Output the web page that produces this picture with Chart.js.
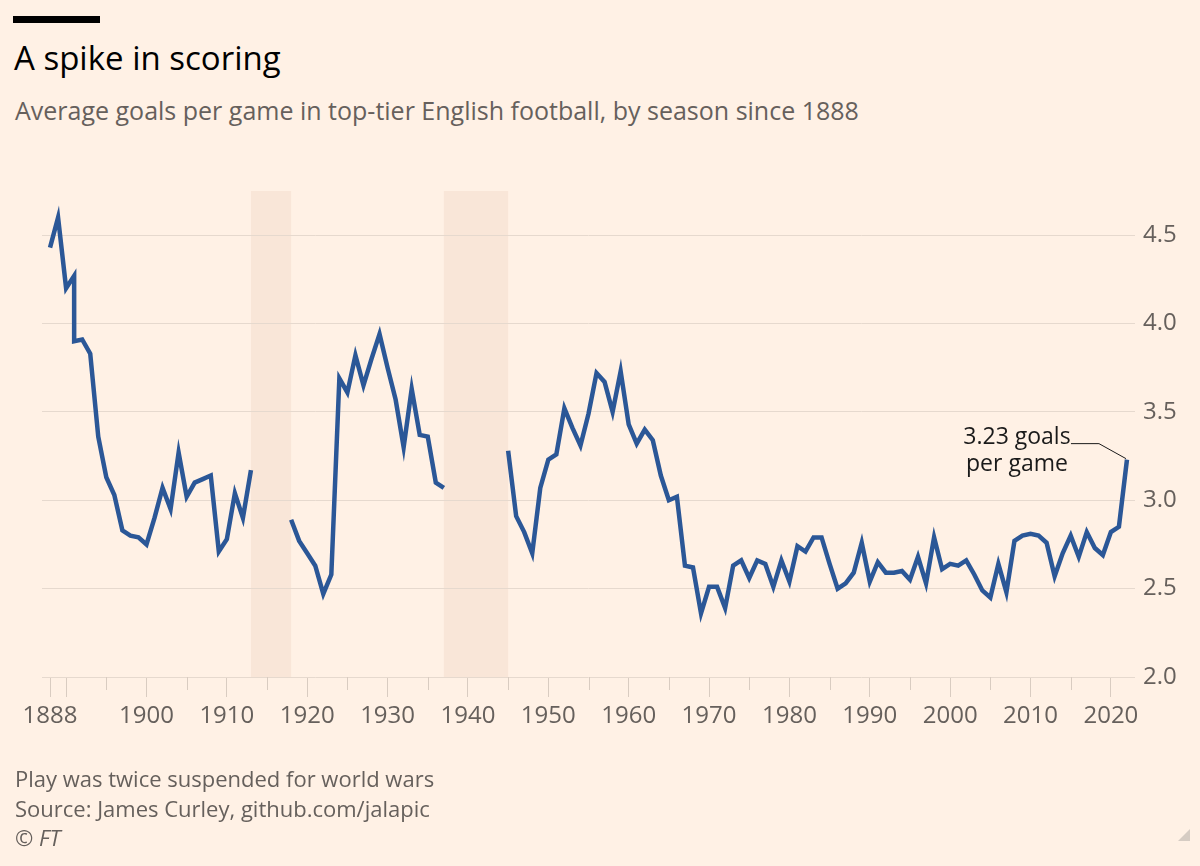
<!DOCTYPE html>
<html>
<head>
<meta charset="utf-8">
<title>A spike in scoring</title>
<script src="https://cdn.jsdelivr.net/npm/chart.js@4"></script>
<style>
html, body { margin: 0; padding: 0; background: #FFF1E5; }
body { width: 1200px; height: 866px; position: relative; overflow: hidden; font-family: "Open Sans", sans-serif; }
#chart { position: absolute; left: 0; top: 0; }
.bar { position: absolute; left: 13px; top: 16px; width: 87px; height: 7px; background: #000; }
.title { position: absolute; left: 14px; top: 41px; font-size: 33px; line-height: 33px; color: #000; white-space: nowrap; }
.subtitle { position: absolute; left: 15px; top: 98px; font-size: 25px; line-height: 25px; color: #66605C; white-space: nowrap; }
.footer { position: absolute; left: 15px; top: 764px; font-size: 22px; line-height: 29.5px; color: #66605C; white-space: nowrap; }
.footer i { font-style: italic; }
.corner { position: absolute; left: 1178px; top: 829px; width: 0; height: 0; border-left: 12px solid transparent; border-bottom: 12px solid #d6ccc3; }
</style>
</head>
<body>
<div class="bar"></div>
<div class="title">A spike in scoring</div>
<div class="subtitle">Average goals per game in top-tier English football, by season since 1888</div>
<canvas id="chart" width="1200" height="866"></canvas>
<div class="footer">Play was twice suspended for world wars<br>Source: James Curley, github.com/jalapic<br><i>© FT</i></div>
<div class="corner"></div>
<script>
// seasons (start year as plotted); null marks the war gaps
const seasons = [
    1888, 1889, 1890, 1891, 1891, 1892, 1893, 1894, 1895, 1896, 1897, 1898, 1899,
    1900, 1901, 1902, 1903, 1904, 1905, 1906, 1907, 1908, 1909, 1910, 1911, 1912, 1913,
    1915,
    1918, 1919, 1920, 1921, 1922, 1923, 1924, 1925, 1926, 1927, 1928, 1929,
    1930, 1931, 1932, 1933, 1934, 1935, 1936, 1937,
    1941,
    1945, 1946, 1947, 1948, 1949, 1950, 1951, 1952, 1953, 1954, 1955, 1956, 1957, 1958, 1959,
    1960, 1961, 1962, 1963, 1964, 1965, 1966, 1967, 1968, 1969,
    1970, 1971, 1972, 1973, 1974, 1975, 1976, 1977, 1978, 1979,
    1980, 1981, 1982, 1983, 1984, 1985, 1986, 1987, 1988, 1989,
    1990, 1991, 1992, 1993, 1994, 1995, 1996, 1997, 1998, 1999,
    2000, 2001, 2002, 2003, 2004, 2005, 2006, 2007, 2008, 2009,
    2010, 2011, 2012, 2013, 2014, 2015, 2016, 2017, 2018, 2019,
    2020, 2021, 2022
];

const goalsPerGame = [
    4.43, 4.60, 4.20, 4.27, 3.90, 3.91, 3.83, 3.36, 3.13, 3.03, 2.83, 2.80, 2.79,
    2.75, 2.90, 3.07, 2.95, 3.27, 3.02, 3.10, 3.12, 3.14, 2.71, 2.78, 3.04, 2.90, 3.17,
    null,
    2.89, 2.77, 2.70, 2.63, 2.47, 2.58, 3.69, 3.61, 3.82, 3.65, 3.80, 3.94,
    3.75, 3.57, 3.30, 3.63, 3.37, 3.36, 3.10, 3.07,
    null,
    3.28, 2.91, 2.82, 2.70, 3.07, 3.23, 3.26, 3.52, 3.41, 3.31, 3.49, 3.72, 3.67, 3.50, 3.73,
    3.43, 3.32, 3.40, 3.34, 3.14, 3.00, 3.02, 2.63, 2.62, 2.36,
    2.51, 2.51, 2.39, 2.63, 2.66, 2.56, 2.66, 2.64, 2.51, 2.66,
    2.54, 2.74, 2.71, 2.79, 2.79, 2.64, 2.50, 2.53, 2.59, 2.76,
    2.54, 2.65, 2.59, 2.59, 2.60, 2.55, 2.68, 2.53, 2.79, 2.61,
    2.64, 2.63, 2.66, 2.58, 2.49, 2.45, 2.64, 2.48, 2.77, 2.80,
    2.81, 2.80, 2.76, 2.57, 2.70, 2.80, 2.68, 2.82, 2.73, 2.69,
    2.82, 2.85, 3.23
];

const warGaps = [[1913, 1918], [1937, 1945]];

const xTickYears = [1888, 1890, 1895, 1900, 1905, 1910, 1915, 1920, 1925, 1930, 1935, 1940,
    1945, 1950, 1955, 1960, 1965, 1970, 1975, 1980, 1985, 1990, 1995, 2000, 2005, 2010, 2015, 2020];
const xLabelYears = [1888, 1900, 1910, 1920, 1930, 1940, 1950, 1960, 1970, 1980, 1990, 2000, 2010, 2020];
const xLongTicks = [1888, 1890].concat(xLabelYears);

const lastLabel = ["3.23 goals", "per game"];

const INK = "#66605C";
const GRID = "#E6D9CE";
const LINE = "#2B5797";

const points = seasons.map(function (s, i) { return { x: s, y: goalsPerGame[i] }; });

const bandPlugin = {
    id: "bands",
    beforeDraw: function (chart) {
        const ctx = chart.ctx, xs = chart.scales.x, area = chart.chartArea;
        ctx.save();
        ctx.fillStyle = "#F9E6D8";
        warGaps.forEach(function (g) {
            const x0 = xs.getPixelForValue(g[0]);
            const x1 = xs.getPixelForValue(g[1]);
            ctx.fillRect(x0, area.top, x1 - x0, area.bottom - area.top);
        });
        ctx.restore();
    }
};

const shortTickPlugin = {
    id: "shortTicks",
    afterDraw: function (chart) {
        const ctx = chart.ctx, xs = chart.scales.x, area = chart.chartArea;
        ctx.save();
        ctx.strokeStyle = "#D9CCC1";
        ctx.lineWidth = 1;
        xTickYears.forEach(function (v) {
            if (xLongTicks.indexOf(v) >= 0) { return; }
            const px = Math.round(xs.getPixelForValue(v)) + 0.5;
            ctx.beginPath();
            ctx.moveTo(px, area.bottom);
            ctx.lineTo(px, area.bottom + 13);
            ctx.stroke();
        });
        ctx.restore();
    }
};

const annotationPlugin = {
    id: "lastNote",
    afterDatasetsDraw: function (chart) {
        const ctx = chart.ctx, xs = chart.scales.x, ys = chart.scales.y;
        const n = seasons.length - 1;
        const px = xs.getPixelForValue(seasons[n]);
        const py = ys.getPixelForValue(goalsPerGame[n]);
        ctx.save();
        ctx.strokeStyle = "#1a1a1a";
        ctx.lineWidth = 1;
        ctx.beginPath();
        ctx.moveTo(px - 56, py - 16);
        ctx.lineTo(px - 28, py - 16);
        ctx.lineTo(px - 1, py - 1);
        ctx.stroke();
        ctx.fillStyle = "#1a1a1a";
        ctx.font = "23px 'Open Sans'";
        ctx.textAlign = "center";
        ctx.textBaseline = "alphabetic";
        ctx.fillText(lastLabel[0], px - 110, py - 16);
        ctx.fillText(lastLabel[1], px - 110, py + 11);
        ctx.restore();
    }
};

new Chart(document.getElementById("chart"), {
    type: "line",
    data: {
        datasets: [{
            label: "Goals per game",
            data: points,
            borderColor: LINE,
            borderWidth: 4.5,
            pointRadius: 0,
            tension: 0,
            spanGaps: false,
            fill: false
        }]
    },
    options: {
        responsive: false,
        animation: false,
        devicePixelRatio: 1,
        layout: { padding: { left: 42, right: 0, top: 191, bottom: 139 } },
        plugins: { legend: { display: false }, tooltip: { enabled: false } },
        scales: {
            x: {
                type: "linear",
                min: 1887,
                max: 2023,
                afterBuildTicks: function (s) { s.ticks = xTickYears.map(function (v) { return { value: v }; }); },
                afterFit: function (s) { s.height = 50; },
                border: { display: false },
                grid: {
                    drawOnChartArea: false,
                    tickLength: 20,
                    tickColor: function (c) {
                        return c.tick && xLongTicks.indexOf(c.tick.value) >= 0 ? "#D9CCC1" : "rgba(0,0,0,0)";
                    }
                },
                ticks: {
                    autoSkip: false,
                    maxRotation: 0,
                    padding: 5,
                    color: INK,
                    font: { family: "Open Sans", size: 24 },
                    callback: function (v) { return xLabelYears.indexOf(v) >= 0 ? String(v) : ""; }
                }
            },
            y: {
                position: "right",
                min: 2,
                max: 4.75,
                afterFit: function (s) { s.width = 65; },
                border: { display: false },
                grid: { color: GRID, drawTicks: false },
                ticks: {
                    stepSize: 0.5,
                    includeBounds: false,
                    padding: 8,
                    color: INK,
                    font: { family: "Open Sans", size: 24 },
                    callback: function (v) { return v.toFixed(1); }
                }
            }
        }
    },
    plugins: [bandPlugin, shortTickPlugin, annotationPlugin]
});
</script>
</body>
</html>
